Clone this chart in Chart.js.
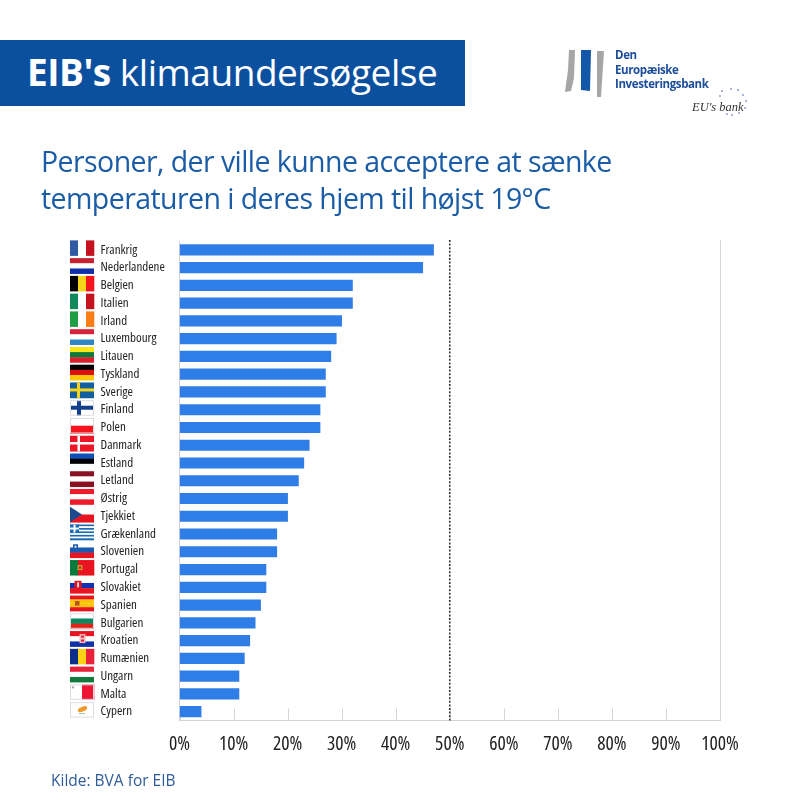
<!DOCTYPE html>
<html>
<head>
<meta charset="utf-8">
<script src="https://cdn.jsdelivr.net/npm/chart.js@4"></script>
<style>
html, body { margin: 0; padding: 0; background: #fff; }
#page { position: relative; width: 800px; height: 800px; overflow: hidden; font-family: "Open Sans", sans-serif; }
#chart { position: absolute; left: 0; top: 0; }
.txt { position: absolute; white-space: nowrap; }
#banner { position: absolute; left: 0; top: 40px; width: 465px; height: 66px; background: #0b509f; }
#bannerText { left: 27px; top: 44px; font-size: 37px; line-height: 56px; color: #fff; letter-spacing: -0.47px; }
#title1, #title2 { left: 41px; font-size: 28.5px; line-height: 38px; color: #1a5ca6; letter-spacing: -0.57px; }
#title1 { top: 142px; }
#title2 { top: 179px; }
#source { left: 51px; top: 770px; font-size: 15.5px; line-height: 20px; color: #2f5c98; }
.logo { left: 615px; font-size: 11.5px; line-height: 14px; font-weight: 700; color: #1b4d9b; letter-spacing: -0.38px; }
#motto { left: 692px; top: 100px; font: italic 12.5px "Liberation Serif", serif; color: #333; }
</style>
</head>
<body>
<div id="page">
  <canvas id="chart" width="800" height="800"></canvas>
  <div id="banner"></div>
  <div class="txt" id="bannerText"><b>EIB's</b> klimaundersøgelse</div>
  <div class="txt" id="title1">Personer, der ville kunne acceptere at sænke</div>
  <div class="txt" id="title2">temperaturen i deres hjem til højst 19°C</div>
  <div class="txt logo" style="top:48px">Den</div>
  <div class="txt logo" style="top:63px">Europæiske</div>
  <div class="txt logo" style="top:77px">Investeringsbank</div>
  <div class="txt" id="motto">EU's bank</div>
  <div class="txt" id="source">Kilde: BVA for EIB</div>
</div>
<script>
var countries = ["Frankrig", "Nederlandene", "Belgien", "Italien", "Irland", "Luxembourg", "Litauen", "Tyskland", "Sverige", "Finland", "Polen", "Danmark", "Estland", "Letland", "Østrig", "Tjekkiet", "Grækenland", "Slovenien", "Portugal", "Slovakiet", "Spanien", "Bulgarien", "Kroatien", "Rumænien", "Ungarn", "Malta", "Cypern"];
var shares = [47, 45, 32, 32, 30, 29, 28, 27, 27, 26, 26, 24, 23, 22, 20, 20, 18, 18, 16, 16, 15, 14, 13, 12, 11, 11, 4];
var ticks = [0, 10, 20, 30, 40, 50, 60, 70, 80, 90, 100];
var threshold = 50;

// v = vertical stripes, h = horizontal stripes
var flags = {
  "Frankrig": ["v", "#2f5aa5", "#ffffff", "#c5121f"],
  "Nederlandene": ["h", "#c8202f", "#ffffff", "#1030a8"],
  "Belgien": ["v", "#000000", "#f7d417", "#f5141c"],
  "Italien": ["v", "#0f8a5a", "#ffffff", "#c5121f"],
  "Irland": ["v", "#1f9e46", "#ffffff", "#fb7d17"],
  "Luxembourg": ["h", "#d8243a", "#ffffff", "#2f86c5"],
  "Litauen": ["h", "#fde516", "#0b7a38", "#d81f2b"],
  "Tyskland": ["h", "#000000", "#dd0f10", "#fdc90a"],
  "Sverige": ["h", "#12609f"],
  "Finland": ["h", "#ffffff"],
  "Polen": ["h", "#ffffff", "#f5141c"],
  "Danmark": ["h", "#ec1526"],
  "Estland": ["h", "#0f4fb8", "#000000", "#ffffff"],
  "Letland": ["h", "#8b1022", "#ffffff", "#8b1022"],
  "Østrig": ["h", "#ee1c2b", "#ffffff", "#ee1c2b"],
  "Tjekkiet": ["h", "#ffffff", "#e8141f"],
  "Grækenland": ["h", "#1c6bb5", "#ffffff", "#1c6bb5", "#ffffff", "#1c6bb5", "#ffffff", "#1c6bb5", "#ffffff", "#1c6bb5"],
  "Slovenien": ["h", "#ffffff", "#1a5bb0", "#e8141f"],
  "Portugal": ["v", "#0a7a3c", "#e8141f", "#e8141f"],
  "Slovakiet": ["h", "#ffffff", "#1032b0", "#e8141f"],
  "Spanien": ["h", "#e8141f", "#fcc40f", "#fcc40f", "#e8141f"],
  "Bulgarien": ["h", "#ffffff", "#0b8a62", "#e2231a"],
  "Kroatien": ["h", "#e8141f", "#ffffff", "#1032a8"],
  "Rumænien": ["v", "#0d2f8c", "#fcd116", "#e8203a"],
  "Ungarn": ["h", "#e8233a", "#ffffff", "#0f7a3c"],
  "Malta": ["v", "#ffffff", "#ee1534"],
  "Cypern": ["h", "#ffffff"]
};

function rect(ctx, color, x, y, w, h) {
  ctx.fillStyle = color;
  ctx.fillRect(x, y, w, h);
}

function drawFlag(ctx, name, x, y, w, h) {
  var spec = flags[name];
  var n = spec.length - 1;
  for (var i = 0; i < n; i++) {
    if (spec[0] == "v") rect(ctx, spec[i + 1], x + i * w / n, y, w / n + 0.3, h);
    else rect(ctx, spec[i + 1], x, y + i * h / n, w, h / n + 0.3);
  }
  if (name == "Sverige") {
    rect(ctx, "#f7d417", x + 7, y, 3, h);
    rect(ctx, "#f7d417", x, y + 6, w, 3);
  }
  if (name == "Finland") {
    rect(ctx, "#123f8c", x + 7, y, 4, h);
    rect(ctx, "#123f8c", x, y + 5.5, w, 4);
  }
  if (name == "Danmark") {
    rect(ctx, "#ffffff", x + 7.5, y, 2.5, h);
    rect(ctx, "#ffffff", x, y + 6.3, w, 2.5);
  }
  if (name == "Tjekkiet") {
    ctx.fillStyle = "#1b4a8f";
    ctx.beginPath();
    ctx.moveTo(x, y);
    ctx.lineTo(x + 12, y + h / 2);
    ctx.lineTo(x, y + h);
    ctx.fill();
  }
  if (name == "Grækenland") {
    rect(ctx, "#1c6bb5", x, y, 9, 8);
    rect(ctx, "#ffffff", x + 3.5, y, 2, 8);
    rect(ctx, "#ffffff", x, y + 3, 9, 2);
  }
  if (name == "Slovenien") {
    rect(ctx, "#1a5bb0", x + 3, y + 2, 5, 5);
    rect(ctx, "#e8e8e8", x + 4.5, y + 3.5, 2, 2);
  }
  if (name == "Portugal") {
    rect(ctx, "#c9a227", x + 7.5, y + 5, 5, 5);
    rect(ctx, "#b8331f", x + 8.8, y + 6.2, 2.4, 2.6);
  }
  if (name == "Slovakiet") {
    rect(ctx, "#e8141f", x + 4.5, y + 3, 7, 8);
    rect(ctx, "#ffffff", x + 7.3, y + 4.5, 1.6, 5);
  }
  if (name == "Spanien") rect(ctx, "#b5521b", x + 5, y + 5.5, 4.5, 4.5);
  if (name == "Kroatien") {
    rect(ctx, "#f4b8bd", x + 9.5, y + 3, 6, 9);
    rect(ctx, "#d8243a", x + 11, y + 4.5, 3, 2);
    rect(ctx, "#d8243a", x + 11, y + 8.5, 3, 2);
  }
  if (name == "Malta") rect(ctx, "#aaaaaa", x + 2, y + 2, 2, 2);
  if (name == "Cypern") {
    ctx.fillStyle = "#ef9a2e";
    ctx.beginPath();
    ctx.ellipse(x + 12.5, y + 7, 5, 2.4, -0.4, 0, Math.PI * 2);
    ctx.fill();
    rect(ctx, "#8fc9a5", x + 9, y + 11, 6, 1);
  }
  // pale edge on the flags that would fade into the page
  if (name == "Cypern" || name == "Malta" || name == "Finland" || name == "Polen" || name == "Bulgarien") {
    ctx.strokeStyle = "#dddddd";
    ctx.lineWidth = 1;
    ctx.strokeRect(x + 0.5, y + 0.5, w - 1, h - 1);
  }
}

var flagPlugin = {
  id: "flagColumn",
  afterDraw: function (chart) {
    var ctx = chart.ctx;
    var yScale = chart.scales.y;
    countries.forEach(function (name, i) {
      drawFlag(ctx, name, 70, yScale.getPixelForValue(i) - 9.5, 24, 15.5);
    });
  }
};

var markPlugin = {
  id: "axisMarks",
  beforeDatasetsDraw: function (chart) {
    var ctx = chart.ctx;
    var area = chart.chartArea;
    var xScale = chart.scales.x;
    ctx.save();
    ctx.strokeStyle = "#d4d4d4";
    ctx.lineWidth = 1;
    ticks.forEach(function (t) {
      var px = Math.round(xScale.getPixelForValue(t)) + 0.5;
      ctx.beginPath();
      ctx.moveTo(px, t == 100 ? area.top - 1 : area.bottom - 12);
      ctx.lineTo(px, area.bottom);
      ctx.stroke();
    });
    ctx.restore();
  },
  afterDatasetsDraw: function (chart) {
    var ctx = chart.ctx;
    var area = chart.chartArea;
    var px = chart.scales.x.getPixelForValue(threshold);
    ctx.save();
    ctx.strokeStyle = "#333333";
    ctx.lineWidth = 1.6;
    ctx.setLineDash([2, 1.6]);
    ctx.beginPath();
    ctx.moveTo(px, area.top - 1);
    ctx.lineTo(px, area.bottom);
    ctx.stroke();
    ctx.restore();
  }
};

// EIB logo next to the banner
var logoPlugin = {
  id: "logo",
  afterDraw: function (chart) {
    var ctx = chart.ctx;
    function poly(color, pts) {
      ctx.fillStyle = color;
      ctx.beginPath();
      pts.forEach(function (p, i) { if (i) ctx.lineTo(p[0], p[1]); else ctx.moveTo(p[0], p[1]); });
      ctx.closePath();
      ctx.fill();
    }
    poly("#a6a6a6", [[569, 50], [575, 50], [574, 78], [571, 91], [565, 92], [568, 70]]);
    poly("#1257a8", [[581, 50], [591, 50], [590, 91], [581, 90]]);
    poly("#a6a6a6", [[597, 51], [604, 51], [601, 97], [597, 97]]);
    var dots = [[720, 96], [722, 91], [731, 89], [738, 90], [743, 95], [746, 101], [745, 108], [739, 113], [732, 115], [727, 114]];
    ctx.fillStyle = "#7f93c4";
    dots.forEach(function (d) {
      ctx.beginPath();
      ctx.arc(d[0], d[1], 0.9, 0, Math.PI * 2);
      ctx.fill();
    });
  }
};

new Chart(document.getElementById("chart").getContext("2d"), {
  type: "bar",
  data: {
    labels: countries,
    datasets: [{
      data: shares,
      backgroundColor: "#2f7de6",
      barThickness: 10.5
    }]
  },
  plugins: [markPlugin, flagPlugin, logoPlugin],
  options: {
    indexAxis: "y",
    responsive: false,
    animation: false,
    devicePixelRatio: 1,
    layout: { padding: { left: 100.5, top: 241, right: 80, bottom: 19.5 } },
    plugins: { legend: { display: false }, tooltip: { enabled: false } },
    scales: {
      x: {
        min: 0,
        max: 100,
        afterFit: function (scale) { scale.height = 60; },
        grid: { drawOnChartArea: false, drawTicks: false },
        border: { color: "#d4d4d4" },
        ticks: {
          stepSize: 10,
          padding: 12,
          color: "#222222",
          maxRotation: 0,
          autoSkip: false,
          // font.style rejects stretch keywords, weight goes straight into the font string
          font: { family: "'Open Sans'", weight: "condensed", size: 19.5 },
          callback: function (v) { return v + "%"; }
        }
      },
      y: {
        afterFit: function (scale) { scale.width = 79; },
        grid: { display: false, drawTicks: false },
        border: { color: "#d4d4d4" },
        ticks: {
          crossAlign: "far",
          autoSkip: false,
          padding: 0,
          color: "#222222",
          font: { family: "'Open Sans'", weight: "condensed", size: 13 }
        }
      }
    }
  }
});
</script>
</body>
</html>
